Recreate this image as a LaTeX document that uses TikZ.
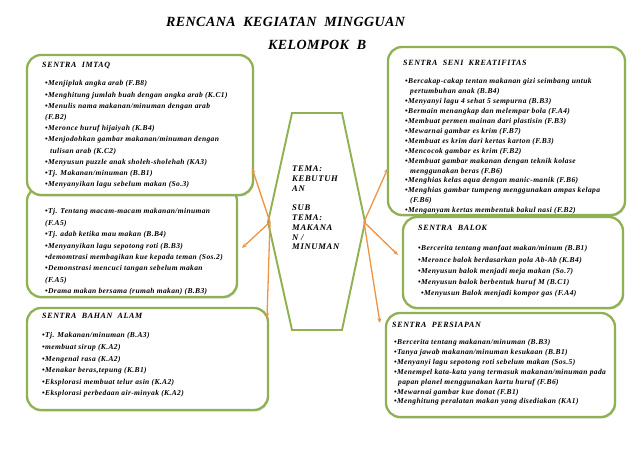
\documentclass[tikz,border=0pt]{standalone}
\usepackage{fontspec}
\setmainfont{Liberation Serif}
\newfontfamily\itemfont[LetterSpace=5]{Liberation Serif}
\newfontfamily\headfont[LetterSpace=8]{Liberation Serif}
\newfontfamily\bigfont[LetterSpace=3]{Liberation Serif}
\usetikzlibrary{arrows.meta,shadows}
\definecolor{gborder}{HTML}{8FB152}
\definecolor{orng}{HTML}{EE9344}
\tikzset{
 box/.style={draw=gborder, line width=2.3pt, rounded corners=14pt, fill=white, inner sep=0pt, outer sep=0pt, anchor=north west,
   drop shadow={shadow xshift=1pt, shadow yshift=-1.5pt, opacity=0.3}},
 items/.style={anchor=north west, inner sep=0pt, align=left, font=\itemfont\bfseries\itshape\fontsize{7.5}{#1}\selectfont},
 hextext/.style={anchor=north west, inner sep=0pt, align=left, font=\headfont\bfseries\itshape\fontsize{8.6}{9.75}\selectfont},
 boxtitle/.style={anchor=west, inner sep=0pt, font=\headfont\bfseries\itshape\fontsize{8}{9}\selectfont},
 maintitle/.style={anchor=west, inner sep=0pt, font=\bigfont\bfseries\itshape\fontsize{14}{16}\selectfont},
 conn/.style={draw=orng, line width=1.3pt, -{Stealth[length=5pt,width=4pt]}},
}
\newcommand{\bl}{\textbullet}
\begin{document}
\begin{tikzpicture}[x=1pt,y=-1pt]
\useasboundingbox (0,0) rectangle (638,451);
% title
\node[maintitle] (t1) at (166,22) {RENCANA\ \ KEGIATAN\ \ MINGGUAN};
\node[maintitle] (t2) at (268,45) {KELOMPOK\ \ B};

% left boxes
\node[box, minimum width=210pt, minimum height=110pt] (tj) at (27,187) {};
\node[box, minimum width=226pt, minimum height=140pt] (imtaq) at (27,55) {};
\node[box, minimum width=241pt, minimum height=102pt] (alam) at (27,308) {};
% right boxes
\node[box, minimum width=237pt, minimum height=168pt] (seni) at (388,47) {};
\node[box, minimum width=220pt, minimum height=91pt] (balok) at (403,217) {};
\node[box, minimum width=229pt, minimum height=104pt] (persiapan) at (386,313) {};

% hexagon
\draw[draw=gborder, line width=1.9pt, fill=white] (292,113) -- (342,113) -- (365,222) -- (342,330) -- (292,330) -- (268,222) -- cycle;
\coordinate (hl) at (270,222);
\coordinate (hr) at (364,222);
\node[hextext] (tema) at (292,166) {TEMA:\\KEBUTUH\\AN\\[9.75pt]SUB\\TEMA:\\MAKANA\\N /\\MINUMAN};

% texts
\node[boxtitle] (imtaqT) at (42,65) {SENTRA\ \ IMTAQ};
\node[items=11.2] (imtaqI) at (45,80.5) {\bl Menjiplak angka arab (F.B8)\\
\bl Menghitung jumlah buah dengan angka arab (K.C1)\\
\bl Menulis nama makanan/minuman dengan arab\\
(F.B2)\\
\bl Meronce huruf hijaiyah (K.B4)\\
\bl Menjodohkan gambar makanan/minuman dengan\\
\hspace*{5pt}tulisan arab (K.C2)\\
\bl Menyusun puzzle anak sholeh-sholehah (KA3)\\
\bl Tj. Makanan/minuman (B.B1)\\
\bl Menyanyikan lagu sebelum makan (So.3)};

\node[items=11.4] (tjI) at (45,208.5) {\bl Tj. Tentang macam-macam makanan/minuman\\
(F.A5)\\
\bl Tj. adab ketika mau makan (B.B4)\\
\bl Menyanyikan lagu sepotong roti (B.B3)\\
\bl demomtrasi membagikan kue kepada teman (Sos.2)\\
\bl Demonstrasi mencuci tangan sebelum makan\\
(F.A5)\\
\bl Drama makan bersama (rumah makan) (B.B3)};

\node[boxtitle] (alamT) at (42,316) {SENTRA\ \ BAHAN\ \ ALAM};
\node[items=11.6] (alamI) at (42,332.5) {\bl Tj. Makanan/minuman (B.A3)\\
\bl membuat sirup (K.A2)\\
\bl Mengenal rasa (K.A2)\\
\bl Menakar beras,tepung (K.B1)\\
\bl Eksplorasi membuat telur asin (K.A2)\\
\bl Eksplorasi perbedaan air-minyak (K.A2)};

\node[boxtitle] (seniT) at (403,63) {SENTRA\ \ SENI\ \ KREATIFITAS};
\node[items=9.9] (seniI) at (405,78.5) {\bl Bercakap-cakap tentan makanan gizi seimbang untuk\\
\hspace*{5pt}pertumbuhan anak (B.B4)\\
\bl Menyanyi lagu 4 sehat 5 sempurna (B.B3)\\
\bl Bermain menangkap dan melempar bola (F.A4)\\
\bl Membuat permen mainan dari plastisin (F.B3)\\
\bl Mewarnai gambar es krim (F.B7)\\
\bl Membuat es krim dari kertas karton (F.B3)\\
\bl Mencocok gambar es krim (F.B2)\\
\bl Membuat gambar makanan dengan teknik kolase\\
\hspace*{5pt}menggunakan beras (F.B6)\\
\bl Menghias kelas aqua dengan manic-manik (F.B6)\\
\bl Menghias gambar tumpeng menggunakan ampas kelapa\\
\hspace*{5pt}(F.B6)\\
\bl Menganyam kertas membentuk bakul nasi (F.B2)};

\node[boxtitle] (balokT) at (418,228) {SENTRA\ \ BALOK};
\node[items=11.25] (balokI) at (418,245.5) {\bl Bercerita tentang manfaat makan/minum (B.B1)\\
\bl Meronce balok berdasarkan pola Ab-Ab (K.B4)\\
\bl Menyusun balok menjadi meja makan (So.7)\\
\bl Menyusun balok berbentuk huruf M (B.C1)\\
\hspace*{3pt}\bl Menyusun Balok menjadi kompor gas (F.A4)};

\node[boxtitle] (persT) at (392,325) {SENTRA\ \ PERSIAPAN};
\node[items=9.83] (persI) at (394,339.5) {\bl Bercerita tentang makanan/minuman (B.B3)\\
\bl Tanya jawab makanan/minuman kesukaan (B.B1)\\
\bl Menyanyi lagu sepotong roti sebelum makan (Sos.5)\\
\bl Menempel kata-kata yang termasuk makanan/minuman pada\\
\hspace*{4pt}papan planel menggunakan kartu huruf (F.B6)\\
\bl Mewarnai gambar kue donat (F.B1)\\
\bl Menghitung peralatan makan yang disediakan (KA1)};

% connectors
\draw[conn] (hl) -- ([xshift=-1pt,yshift=27pt]imtaq.south east);
\draw[conn] (hl) -- ([xshift=5pt,yshift=-6pt]tj.east);
\draw[conn] (hl) -- ([xshift=-1pt,yshift=-10pt]alam.north east);
\draw[conn] (hr) -- ([yshift=-37pt]seni.west);
\draw[conn] (hr) -- ([xshift=-5pt,yshift=7.5pt]balok.west);
\draw[conn] (hr) -- ([xshift=-6pt,yshift=-10pt]persiapan.north west);
\end{tikzpicture}
\end{document}
